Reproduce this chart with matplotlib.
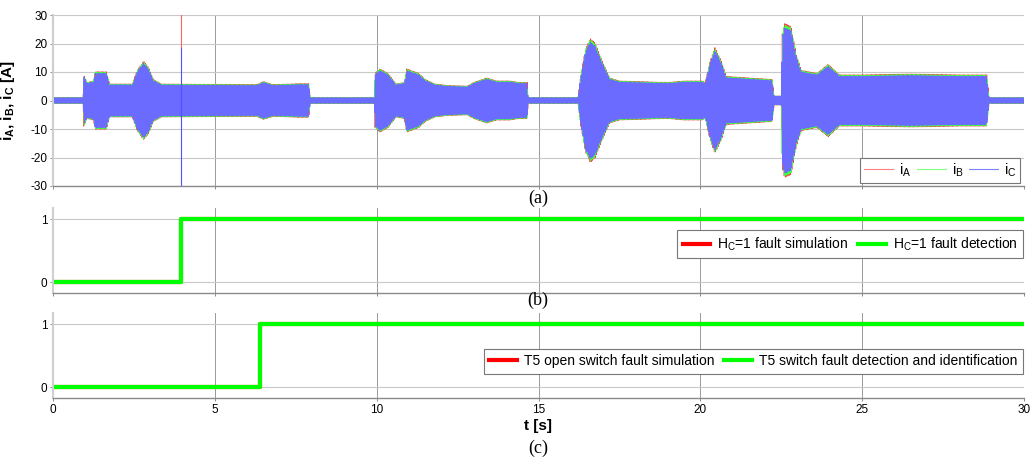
import numpy as np
import matplotlib
matplotlib.use("Agg")
import matplotlib.pyplot as plt
from matplotlib.lines import Line2D

plt.rcParams["font.family"] = ["Liberation Sans", "DejaVu Sans"]
plt.rcParams["mathtext.fontset"] = "custom"
plt.rcParams["mathtext.rm"] = "Liberation Sans"
plt.rcParams["mathtext.it"] = "Liberation Sans"
plt.rcParams["mathtext.bf"] = "Liberation Sans:bold"
plt.rcParams["axes.unicode_minus"] = False

# Current envelope (peak amplitude in A) at key instants of the 30 s run
env_t = [0.0, 0.93, 0.95, 1.05, 1.25, 1.30, 1.65, 1.75, 2.45, 2.60, 2.80, 2.95,
         3.10, 3.35, 6.30, 6.50, 6.80, 7.60, 7.90, 7.95, 9.93, 9.95, 10.10, 10.35,
         10.60, 10.85, 10.93, 11.30, 11.50, 11.80, 12.20, 12.80, 13.00, 13.40,
         13.70, 14.10, 14.40, 14.65, 14.68, 16.22, 16.30, 16.45, 16.60, 16.75,
         16.95, 17.20, 17.50, 19.00, 19.50, 20.05, 20.15, 20.30, 20.45, 20.65,
         20.80, 21.50, 22.22, 22.28, 22.50, 22.53, 22.60, 22.80, 22.97, 23.12,
         23.60, 23.95, 24.30, 25.00, 26.50, 28.00, 28.85, 28.92, 30.0]
env_amp = [1.0, 1.0, 8.5, 6.0, 6.5, 9.5, 9.5, 5.5, 5.5, 10.0, 13.0, 11.0,
           7.0, 5.5, 5.3, 6.3, 5.3, 5.6, 5.6, 1.0, 1.0, 9.0, 10.5, 9.0,
           5.5, 6.0, 10.5, 9.0, 7.0, 5.5, 5.0, 4.8, 6.0, 7.5,
           6.5, 6.5, 6.0, 6.0, 1.0, 1.0, 8.0, 17.0, 20.5, 19.0,
           13.5, 7.5, 6.5, 6.0, 6.5, 6.5, 6.0, 13.0, 17.5, 13.0,
           8.0, 7.5, 7.0, 1.5, 1.5, 22.0, 25.5, 24.5, 15.0, 10.0,
           9.0, 12.0, 8.5, 8.5, 8.8, 8.5, 8.5, 1.0, 1.0]

# Relative peak of each phase (slight unbalance between A, B and C)
phase_gain = [1.06, 1.04, 1.0]

# Stator frequency and sampling of the recorded phase currents
f_stator = 25.0
fs = 1500.0

# Fault instants [s]
hc_fault_t = 3.95    # hall sensor H_C = 1 fault
t5_fault_t = 6.40    # T5 open switch fault
marker_split = 18.5  # level where the fault marker changes colour in (a)

t = np.arange(0.0, 30.0, 1.0 / fs)
amp = np.interp(t, env_t, env_amp)
wt = 2 * np.pi * f_stator * t
i_a = phase_gain[0] * amp * np.sin(wt)
i_b = phase_gain[1] * amp * np.sin(wt - 2 * np.pi / 3)
i_c = phase_gain[2] * amp * np.sin(wt + 2 * np.pi / 3)

W, H = 1030, 462
fig = plt.figure(figsize=(W / 100, H / 100), dpi=100)
left = 53 / W
width = 971 / W
ax_a = fig.add_axes([left, 1 - 186 / H, width, 171 / H])
ax_b = fig.add_axes([left, 1 - 293.3 / H, width, 85 / H])
ax_c = fig.add_axes([left, 1 - 398.3 / H, width, 85 / H])

def style(ax):
    ax.set_xlim(0, 30)
    ax.set_xticks(np.arange(0, 31, 5))
    ax.grid(True, axis="y", color="#c8c8c8", lw=0.8)
    ax.grid(True, axis="x", color="#9a9a9a", lw=0.7)
    ax.set_axisbelow(True)
    for s in ("top", "right"):
        ax.spines[s].set_visible(False)
    ax.spines["left"].set_color("#cfcfcf")
    ax.spines["left"].set_linewidth(1.5)
    ax.spines["bottom"].set_color("#8a8a8a")
    ax.spines["bottom"].set_linewidth(1.0)
    ax.tick_params(length=2, width=0.6, color="#777777", labelsize=8.5, pad=2)

# (a) phase currents
style(ax_a)
ax_a.plot(t, i_a, color="#ff4040", lw=0.6, rasterized=True)
ax_a.plot(t, i_b, color="#40ff40", lw=0.6, rasterized=True)
ax_a.plot(t, i_c, color="#6b6bff", lw=0.6, rasterized=True)
ax_a.plot([hc_fault_t, hc_fault_t], [marker_split, 30], color="#ff6060", lw=0.8)
ax_a.plot([hc_fault_t, hc_fault_t], [-30, marker_split], color="#5050ff", lw=0.8)
ax_a.set_ylim(-30, 30)
ax_a.set_yticks(np.arange(-30, 31, 10))
ax_a.tick_params(labelbottom=False)
ax_a.set_ylabel(r"i$_\mathbf{A}$, i$_\mathbf{B}$, i$_\mathbf{C}$ [A]",
                fontsize=11, fontweight="bold")
ax_a.yaxis.set_label_coords(-0.037, 0.5)
h_a = [Line2D([], [], color="#ff8080", lw=0.8),
       Line2D([], [], color="#80ff80", lw=0.8),
       Line2D([], [], color="#8080ff", lw=0.8)]
leg = ax_a.legend(h_a, [r"i$_\mathrm{A}$", r"i$_\mathrm{B}$", r"i$_\mathrm{C}$"],
                  ncol=3, loc="lower right", bbox_to_anchor=(0.996, 0.02),
                  fontsize=10.5, handlelength=2.0, columnspacing=0.4, handletextpad=0.4,
                  borderpad=0.25, fancybox=False, framealpha=1, borderaxespad=0)
leg.get_frame().set_edgecolor("#777777")
leg.get_frame().set_linewidth(0.8)

# step signals for (b) and (c)
def step(ax, t_fault, labels, anchor_y):
    style(ax)
    tt = [0, t_fault, t_fault, 30]
    yy = [0, 0, 1, 1]
    ax.plot(tt, yy, color="#ff0000", lw=3.0, label=labels[0])
    ax.plot(tt, yy, color="#00ff00", lw=3.0, label=labels[1])
    ax.set_ylim(-0.18, 1.175)
    ax.set_yticks([0, 1])
    lg = ax.legend(ncol=2, loc="lower right", bbox_to_anchor=(0.999, anchor_y),
                   fontsize=10, handlelength=2.0, columnspacing=0.7, handletextpad=0.5,
                   borderpad=0.4, fancybox=False, framealpha=1, borderaxespad=0)
    lg.get_frame().set_edgecolor("#777777")
    lg.get_frame().set_linewidth(0.8)

step(ax_b, hc_fault_t, [r"H$_\mathrm{C}$=1 fault simulation", r"H$_\mathrm{C}$=1 fault detection"], 0.41)
ax_b.tick_params(labelbottom=False)
step(ax_c, t5_fault_t, ["T5 open switch fault simulation",
                        "T5 switch fault detection and identification"], 0.29)
ax_c.set_xlabel("t [s]", fontsize=11, fontweight="bold", labelpad=2)

serif = ["Liberation Serif", "DejaVu Serif"]
fig.text(538 / W, 1 - 198 / H, "(a)", ha="center", va="center", fontsize=13, family=serif)
fig.text(538 / W, 1 - 300 / H, "(b)", ha="center", va="center", fontsize=13, family=serif)
fig.text(538 / W, 1 - 448 / H, "(c)", ha="center", va="center", fontsize=13, family=serif)

fig.savefig("out.png", dpi=100)
